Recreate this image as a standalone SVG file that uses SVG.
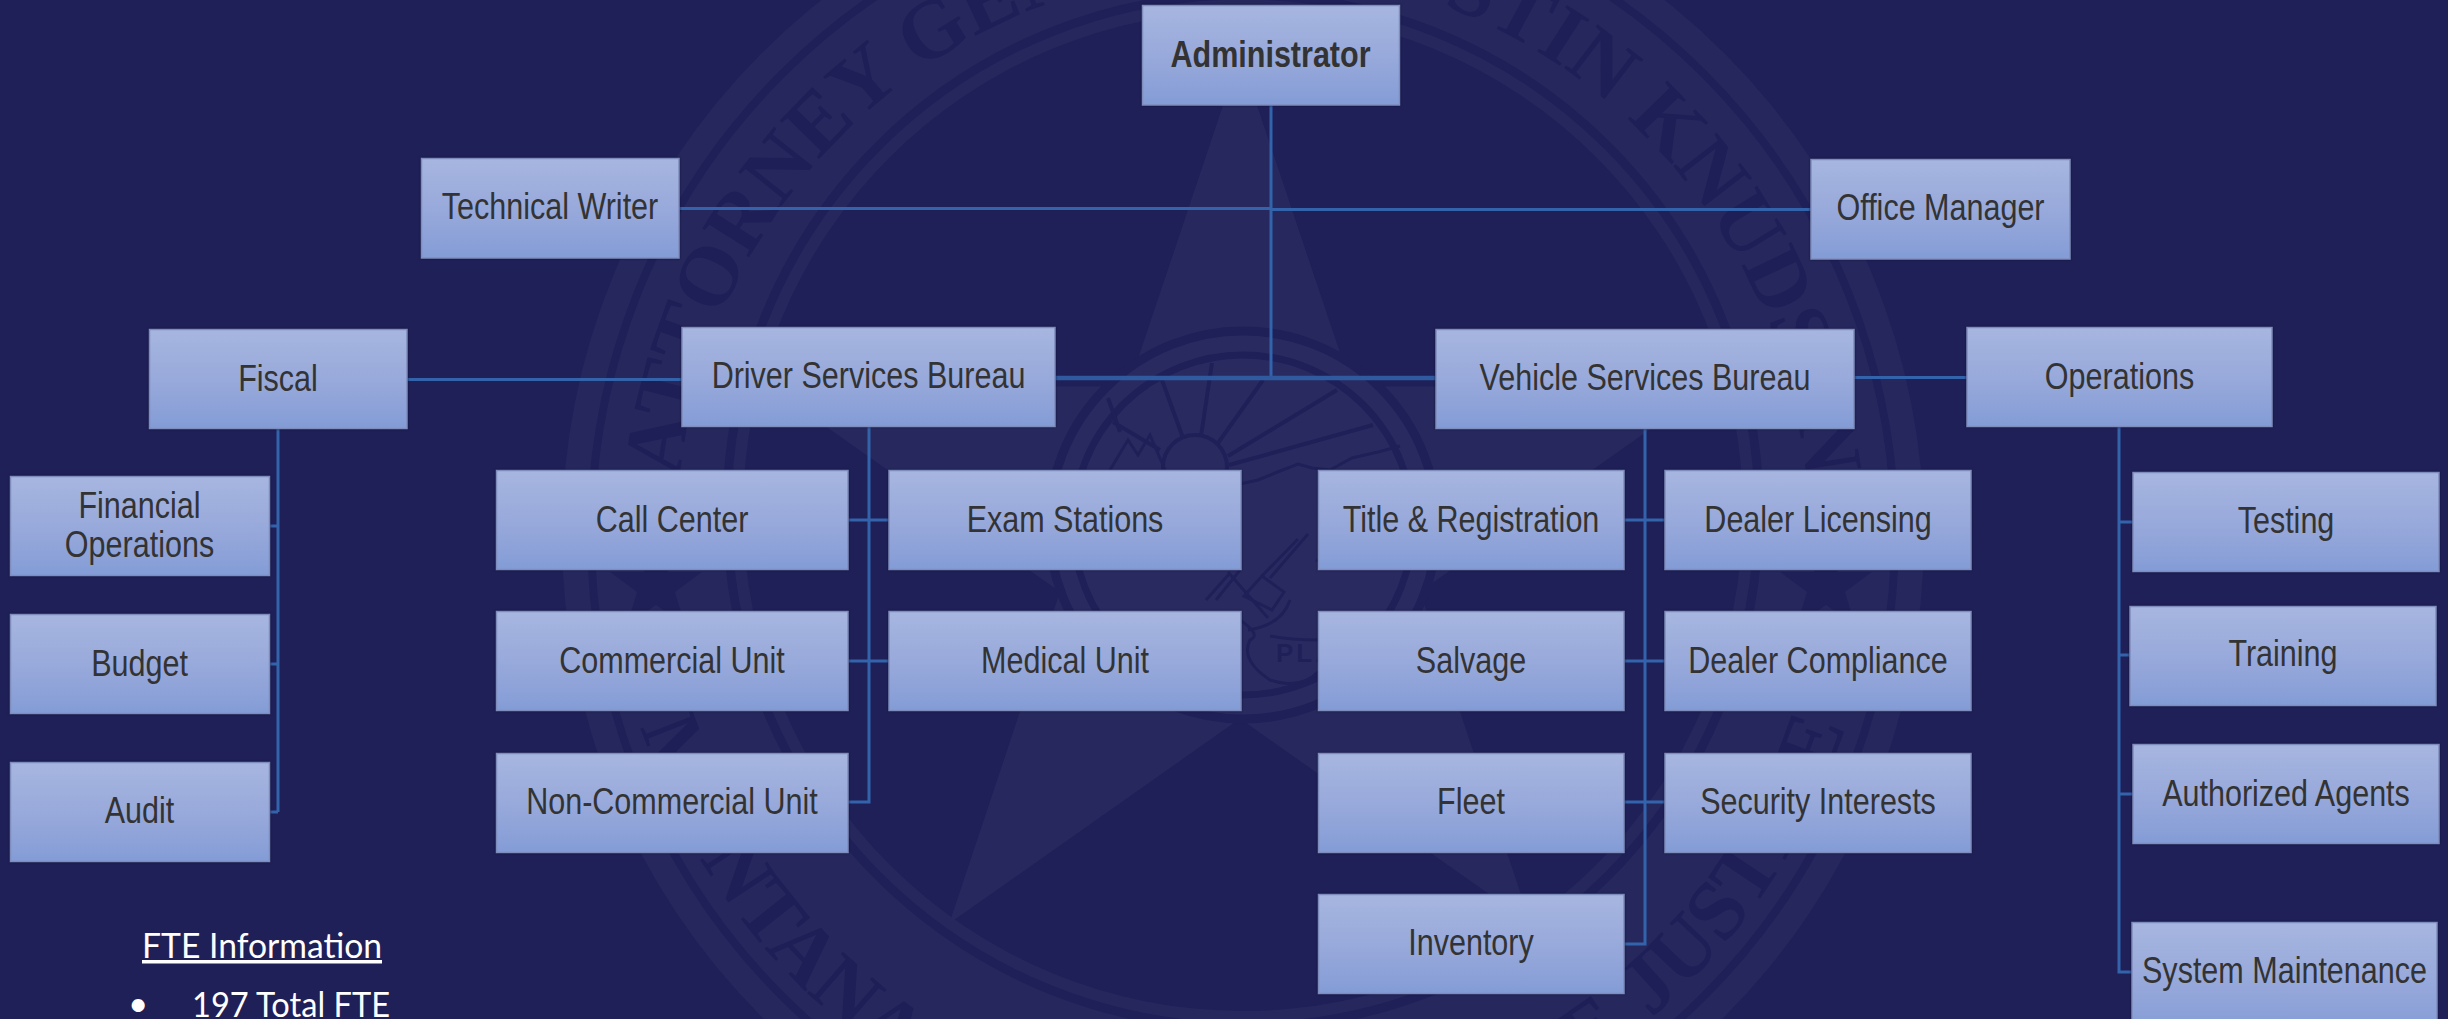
<svg xmlns="http://www.w3.org/2000/svg" xmlns:xlink="http://www.w3.org/1999/xlink" width="2448" height="1019" viewBox="0 0 2448 1019">
<defs>
<linearGradient id="g" x1="0" y1="0" x2="0" y2="1"><stop offset="0" stop-color="#a7b6e0"/><stop offset="0.6" stop-color="#95a7da"/><stop offset="1" stop-color="#839cd6"/></linearGradient>
<path id="topArc" d="M 1243 1101 A 566 566 0 1 1 1243.01 1101"/>
<path id="botArc" d="M 1243 -97 A 632 632 0 1 0 1243.01 -97"/>
<path id="starShape" d="M0 -480 L108 -148.6 L456.5 -148.3 L174.7 56.8 L282.1 388.3 L0 183.6 L-282.1 388.3 L-174.7 56.8 L-456.5 -148.3 L-108 -148.6 Z"/>
</defs>
<style>
.b{fill:url(#g);stroke:#7f8dbc;stroke-width:1.5;filter:drop-shadow(0 0 1px #10123a)}
.t{font-family:"Liberation Sans",Arial,sans-serif;font-size:37px;fill:#333;text-anchor:middle}
.c{stroke:#3363ab;stroke-width:3;fill:none}
.w{stroke:#2f5a9f;stroke-width:4.500;fill:none}
.sd{fill:none;stroke:#1f2058}
.sl{fill:#26285d}
.st{font-family:"Liberation Serif",serif;font-weight:bold;font-size:84px;fill:#1e1f57}
.f{font-family:Lato,"Open Sans",sans-serif;font-size:35px;fill:#fff}
</style>
<rect width="2448" height="1019" fill="#1f2058"/>
<g id="seal">
<circle class="sl" cx="1243" cy="535" r="681"/>
<circle class="sd" cx="1243" cy="535" r="652" stroke-width="8"/>
<text class="st"><textPath xlink:href="#topArc" href="#topArc" startOffset="50%" text-anchor="middle">ATTORNEY GENERAL AUSTIN KNUDSEN</textPath></text>
<text class="st" word-spacing="15"><textPath xlink:href="#botArc" href="#botArc" startOffset="50%" text-anchor="middle">MONTANA DEPARTMENT OF JUSTICE</textPath></text>
<circle cx="1243" cy="511" r="516" fill="none" stroke="#1f2058" stroke-width="9"/>
<circle cx="1243" cy="511" r="500" fill="#1f2058"/>
<use href="#starShape" transform="translate(1240 535) scale(1.03 1)" fill="#27295e"/>
<path fill="#1f2058" d="M656 540 L668 572 L702 572 L675 592 L685 625 L656 605 L627 625 L637 592 L610 572 L644 572Z"/>
<path fill="#1f2058" d="M1826 540 L1838 572 L1872 572 L1845 592 L1855 625 L1826 605 L1797 625 L1807 592 L1780 572 L1814 572Z"/>
<circle cx="1243" cy="525" r="198" fill="#292b60"/>
<circle class="sd" cx="1243" cy="525" r="194" stroke-width="9"/>
<circle class="sd" cx="1243" cy="525" r="170" stroke-width="7"/>
<g class="sd" stroke-width="4">
<circle cx="1195" cy="467" r="32"/>
<path d="M1183 438 L1162 380 M1201 436 L1212 363 M1218 443 L1263 380 M1228 456 L1337 390 M1229 465 L1373 425 M1160 450 L1113 422 M1120 432 L1108 398"/>
<path stroke-width="3" d="M1240 484 L1258 480 L1280 471 L1298 464 L1312 468 L1330 470 L1352 458 L1378 452 L1400 446"/>
<path stroke-width="3" d="M1110 470 L1128 440 L1138 455 L1150 435 L1165 470"/>
<path stroke-width="3" d="M1298 539 L1262 576 M1308 534 L1270 578 M1230 573 L1206 600 M1240 570 L1216 600 M1228 572 L1268 618"/>
<path stroke-width="3" d="M1262 576 L1284 592 L1272 610 L1244 596 Z M1290 600 Q1282 625 1248 630"/>
<path stroke-width="3" d="M1316 560 Q1350 575 1370 560 M1240 620 Q1262 635 1250 640 Q1240 660 1270 680 Q1300 690 1318 672 M1320 640 Q1290 640 1270 636"/>
</g>
<text font-family="Liberation Sans,sans-serif" font-weight="bold" font-size="26" letter-spacing="3" fill="#1f2058" x="1276" y="662" text-anchor="start">PLA</text>
</g>
<g id="connectors">
<path class="c" d="M1271 105 V378"/>
<path class="c" d="M679 208.500 H1271 M1271 209.500 H1811"/>
<path class="w" d="M1055 378 H1436"/>
<path class="c" d="M407 379.500 H682 M1854 377.500 H1967"/>
<path class="c" d="M278 428 V812 M269 526 H278 M269 664 H278 M269 812 H278"/>
<path class="c" d="M869 426 V802 H848 M848 520 H889 M848 661 H889"/>
<path class="c" d="M1645 428 V944 H1624 M1624 520 H1665 M1624 661 H1665 M1624 802 H1665"/>
<path class="c" d="M2119 426 V972 H2132 M2119 522 H2133 M2119 655 H2130 M2119 794 H2133"/>
</g>
<g id="n-administrator"><rect class="b" x="1142.500" y="5.500" width="257" height="99.500"/><text class="t" font-weight="bold" transform="translate(1270.500 67) scale(.825 1)">Administrator</text></g>
<g id="n-technical-writer"><rect class="b" x="421.500" y="158.500" width="257.500" height="99.500"/><text class="t" transform="translate(550 219) scale(.825 1)">Technical Writer</text></g>
<g id="n-office-manager"><rect class="b" x="1811" y="159.500" width="259" height="99.500"/><text class="t" transform="translate(1940.500 220) scale(.825 1)">Office Manager</text></g>
<g id="n-fiscal"><rect class="b" x="149.500" y="329.500" width="257.500" height="99"/><text class="t" transform="translate(278 391) scale(.825 1)">Fiscal</text></g>
<g id="n-driver"><rect class="b" x="682" y="327.500" width="373" height="99"/><text class="t" transform="translate(868.500 388) scale(.825 1)">Driver Services Bureau</text></g>
<g id="n-vehicle"><rect class="b" x="1436" y="329.500" width="418" height="99"/><text class="t" transform="translate(1645 390) scale(.825 1)">Vehicle Services Bureau</text></g>
<g id="n-operations"><rect class="b" x="1967" y="327.500" width="305" height="99"/><text class="t" transform="translate(2119.500 389) scale(.825 1)">Operations</text></g>
<g id="n-financial"><rect class="b" x="10.500" y="476.500" width="259" height="99"/><text class="t" transform="translate(139.500 518) scale(.825 1)">Financial</text><text class="t" transform="translate(139.500 557) scale(.825 1)">Operations</text></g>
<g id="n-budget"><rect class="b" x="10.500" y="614.500" width="259" height="99"/><text class="t" transform="translate(139.500 676) scale(.825 1)">Budget</text></g>
<g id="n-audit"><rect class="b" x="10.500" y="762.500" width="259" height="99"/><text class="t" transform="translate(139.500 823) scale(.825 1)">Audit</text></g>
<g id="n-call"><rect class="b" x="496.500" y="470.500" width="351.500" height="99"/><text class="t" transform="translate(672 532) scale(.825 1)">Call Center</text></g>
<g id="n-commercial"><rect class="b" x="496.500" y="611.500" width="351.500" height="99"/><text class="t" transform="translate(672 673) scale(.825 1)">Commercial Unit</text></g>
<g id="n-noncommercial"><rect class="b" x="496.500" y="753.500" width="351.500" height="99"/><text class="t" transform="translate(672 814) scale(.825 1)">Non-Commercial Unit</text></g>
<g id="n-exam"><rect class="b" x="889" y="470.500" width="352" height="99"/><text class="t" transform="translate(1065 532) scale(.825 1)">Exam Stations</text></g>
<g id="n-medical"><rect class="b" x="889" y="611.500" width="352" height="99"/><text class="t" transform="translate(1065 673) scale(.825 1)">Medical Unit</text></g>
<g id="n-title"><rect class="b" x="1318.500" y="470.500" width="305.500" height="99"/><text class="t" transform="translate(1471 532) scale(.825 1)">Title &amp; Registration</text></g>
<g id="n-salvage"><rect class="b" x="1318.500" y="611.500" width="305.500" height="99"/><text class="t" transform="translate(1471 673) scale(.825 1)">Salvage</text></g>
<g id="n-fleet"><rect class="b" x="1318.500" y="753.500" width="305.500" height="99"/><text class="t" transform="translate(1471 814) scale(.825 1)">Fleet</text></g>
<g id="n-inventory"><rect class="b" x="1318.500" y="894.500" width="305.500" height="99"/><text class="t" transform="translate(1471 955) scale(.825 1)">Inventory</text></g>
<g id="n-dealer-licensing"><rect class="b" x="1665" y="470.500" width="306" height="99"/><text class="t" transform="translate(1818 532) scale(.825 1)">Dealer Licensing</text></g>
<g id="n-dealer-compliance"><rect class="b" x="1665" y="611.500" width="306" height="99"/><text class="t" transform="translate(1818 673) scale(.825 1)">Dealer Compliance</text></g>
<g id="n-security"><rect class="b" x="1665" y="753.500" width="306" height="99"/><text class="t" transform="translate(1818 814) scale(.825 1)">Security Interests</text></g>
<g id="n-testing"><rect class="b" x="2133" y="472.500" width="306" height="99"/><text class="t" transform="translate(2286 533) scale(.825 1)">Testing</text></g>
<g id="n-training"><rect class="b" x="2130" y="606.500" width="306" height="99"/><text class="t" transform="translate(2283 666) scale(.825 1)">Training</text></g>
<g id="n-agents"><rect class="b" x="2133" y="744.500" width="306" height="99"/><text class="t" transform="translate(2286 806) scale(.825 1)">Authorized Agents</text></g>
<g id="n-system"><rect class="b" x="2132" y="922.500" width="305" height="110"/><text class="t" transform="translate(2284.500 983) scale(.825 1)">System Maintenance</text></g>
<g id="fte">
<text class="f" x="142" y="958" textLength="240" lengthAdjust="spacingAndGlyphs" text-decoration="underline">FTE Information</text>
<text class="f" x="128" y="1016">•</text>
<text class="f" x="192" y="1017" textLength="198" lengthAdjust="spacingAndGlyphs">197 Total FTE</text>
</g>
</svg>
